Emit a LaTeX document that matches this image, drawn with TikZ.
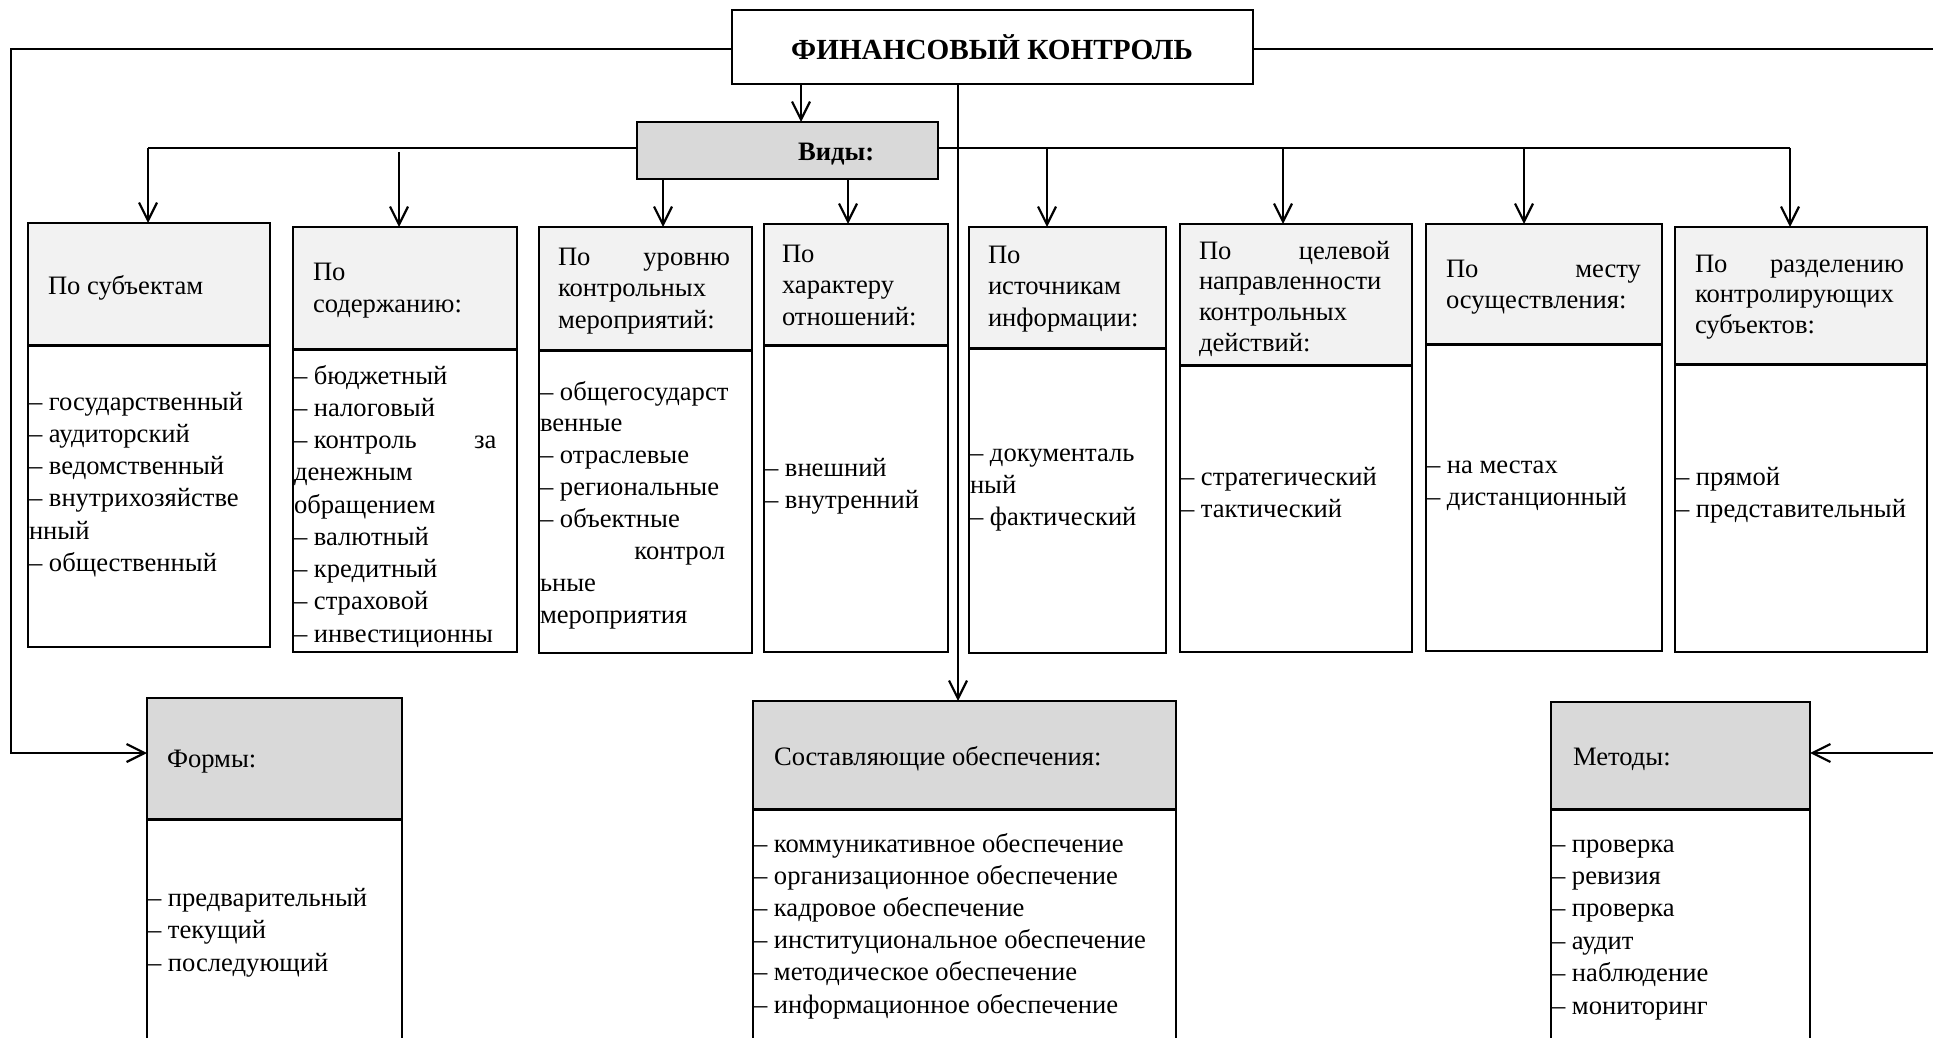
\documentclass[tikz,border=0pt]{standalone}
\usepackage{fontspec}
\setmainfont{Liberation Serif}
\usetikzlibrary{arrows.meta}
\definecolor{hdrlight}{HTML}{F2F2F2}
\definecolor{hdrdark}{HTML}{D9D9D9}
\newcommand\bodyfont{\fontsize{13.3pt}{16pt}\selectfont}
\tikzset{
  boxline/.style={draw=black, line width=0.9pt, inner sep=0pt, outer sep=0pt},
  sepline/.style={line width=1.5pt},
  conn/.style={line width=1.2pt},
  arr/.style={line width=1.2pt, -{Straight Barb[length=9pt,width=9pt,line width=1.1pt]}},
  txt/.style={anchor=base west, inner sep=0pt, outer sep=0pt, font=\bodyfont},
}
% name, x1, y1, x2, y2, fill
\newcommand\mkbox[6]{\node[boxline, fill=#6, minimum width={(#4-#2)*0.5pt}, minimum height={(#5-#3)*0.5pt}] (#1) at ({(#2+#4)/2},{(#3+#5)/2}) {};}
% name, x, y0, dy, list
\newcommand\txtlines[5]{\foreach \linetxt [count=\lineidx] in {#5} {\node[txt] (#1-\lineidx) at (#2,{#3+(\lineidx-1)*#4}) {\linetxt};}}
\begin{document}
\begin{tikzpicture}[x=0.5pt,y=-0.5pt]
\useasboundingbox (0,0) rectangle (1933,1038);
\fill[white] (0,0) rectangle (1933,1038);

% ---------- coordinates for connectors
\coordinate (vx) at (801,0);
\coordinate (mx) at (958,0);
\coordinate (ly) at (0,49);
\coordinate (fy) at (0,753);
\coordinate (hl) at (148,148);
\coordinate (hr) at (1790,148);
\coordinate (a2) at (399,152);
\coordinate (a3) at (663,0);
\coordinate (a4) at (848,0);
\coordinate (a5) at (1047,148);
\coordinate (a6) at (1283,148);
\coordinate (a7) at (1524,148);

% ---------- boxes (header + body)
\mkbox{title}{732}{10}{1253}{84}{white}
\mkbox{vidy}{637}{122}{938}{179}{hdrdark}

\mkbox{b1}{28}{345}{270}{647}{white}
\mkbox{h1}{28}{223}{270}{345}{hdrlight}
\mkbox{b2}{293}{349}{517}{652}{white}
\mkbox{h2}{293}{227}{517}{349}{hdrlight}
\mkbox{b3}{539}{350}{752}{653}{white}
\mkbox{h3}{539}{227}{752}{350}{hdrlight}
\mkbox{b4}{764}{345}{948}{652}{white}
\mkbox{h4}{764}{224}{948}{345}{hdrlight}
\mkbox{b5}{969}{348}{1166}{653}{white}
\mkbox{h5}{969}{227}{1166}{348}{hdrlight}
\mkbox{b6}{1180}{365}{1412}{652}{white}
\mkbox{h6}{1180}{224}{1412}{365}{hdrlight}
\mkbox{b7}{1426}{344}{1662}{651}{white}
\mkbox{h7}{1426}{224}{1662}{344}{hdrlight}
\mkbox{b8}{1675}{364}{1927}{652}{white}
\mkbox{h8}{1675}{227}{1927}{364}{hdrlight}

\mkbox{fb}{147}{819}{402}{1060}{white}
\mkbox{fh}{147}{698}{402}{819}{hdrdark}
\mkbox{sb}{753}{809}{1176}{1060}{white}
\mkbox{sh}{753}{701}{1176}{809}{hdrdark}
\mkbox{mb}{1551}{809}{1810}{1060}{white}
\mkbox{mh}{1551}{702}{1810}{809}{hdrdark}

\foreach \hh in {h1,h2,h3,h4,h5,h6,h7,h8,fh,sh,mh}
  \draw[sepline] (\hh.south west) -- (\hh.south east);

% ---------- connectors
\draw[arr] (title.west |- ly) -- ++(-721,0) |- (fh.west |- fy);
\draw[arr] (title.east |- ly) -- ++(692,0) |- (mh.east |- fy);
\draw[arr] (title.south -| vx) -- (vidy.north -| vx);
\draw[arr] (title.south -| mx) -- (sh.north -| mx);
\draw[conn] (hl) -- (vidy.west |- hl);
\draw[conn] (vidy.east |- hr) -- (hr);
\draw[arr] (hl) -- (hl |- h1.north);
\draw[arr] (a2) -- (a2 |- h2.north);
\draw[arr] (vidy.south -| a3) -- (a3 |- h3.north);
\draw[arr] (vidy.south -| a4) -- (a4 |- h4.north);
\draw[arr] (a5) -- (a5 |- h5.north);
\draw[arr] (a6) -- (a6 |- h6.north);
\draw[arr] (a7) -- (a7 |- h7.north);
\draw[arr] (hr) -- (hr |- h8.north);

% ---------- texts
\node[anchor=base, inner sep=0pt, font=\fontsize{14.6pt}{17pt}\selectfont\bfseries] (titletxt) at (992,60) {ФИНАНСОВЫЙ КОНТРОЛЬ};
\node[txt, font=\bodyfont\bfseries] (vidytxt) at (798,161) {Виды:};

\txtlines{h1t}{48}{294}{31}{По субъектам}
\txtlines{b1t}{29}{410}{32.3}{– государственный,– аудиторский,– ведомственный,– внутрихозяйстве,нный,– общественный}

\txtlines{h2t}{313}{280}{32}{По,содержанию:}
\txtlines{b2t}{294}{384}{32.25}{– бюджетный,– налоговый,{\makebox[101.25pt][l]{– контроль\hfill за}},денежным,обращением,– валютный,– кредитный,– страховой,– инвестиционны}

\txtlines{h3t}{558}{265}{31.5}{{\makebox[86pt][l]{По\hfill уровню}},контрольных,мероприятий:}
\txtlines{b3t}{540}{400}{31.9}{– общегосударст,венные,– отраслевые,– региональные,– объектные,{\makebox[92.5pt][r]{контрол}},ьные,мероприятия}

\txtlines{h4t}{782}{262}{31.5}{По,характеру,отношений:}
\txtlines{b4t}{765}{476}{32}{– внешний,– внутренний}

\txtlines{h5t}{988}{263}{31.5}{По,источникам,информации:}
\txtlines{b5t}{970}{461}{32}{– документаль,ный,– фактический}

\txtlines{h6t}{1199}{259}{30.7}{{\makebox[95.5pt][l]{По\hfill целевой}},направленности,контрольных,действий:}
\txtlines{b6t}{1181}{485}{32}{– стратегический,– тактический}

\txtlines{h7t}{1446}{277}{31}{{\makebox[97.5pt][l]{По\hfill месту}},осуществления:}
\txtlines{b7t}{1427}{473}{32.5}{– на местах,– дистанционный}

\txtlines{h8t}{1695}{272}{30.5}{{\makebox[104.5pt][l]{По\hfill разделению}},контролирующих,субъектов:}
\txtlines{b8t}{1676}{485}{32}{– прямой,– представительный}

\txtlines{fht}{167}{767}{32}{Формы:}
\txtlines{fbt}{148}{906}{32.5}{– предварительный,– текущий,– последующий}

\txtlines{sht}{774}{765}{32}{Составляющие обеспечения:}
\txtlines{sbt}{754}{852}{32.2}{– коммуникативное обеспечение,– организационное обеспечение,– кадровое обеспечение,– институциональное обеспечение,– методическое обеспечение,– информационное обеспечение}

\txtlines{mht}{1573}{765}{32}{Методы:}
\txtlines{mbt}{1552}{852}{32.4}{– проверка,– ревизия,– проверка,– аудит,– наблюдение,– мониторинг}
\end{tikzpicture}
\end{document}
